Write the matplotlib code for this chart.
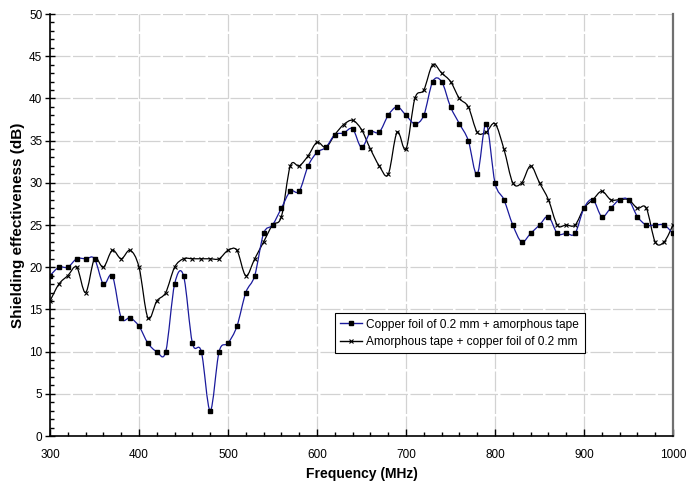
import numpy as np
import matplotlib
matplotlib.use("Agg")
import matplotlib.pyplot as plt
from matplotlib.path import Path
from matplotlib.patches import PathPatch
from matplotlib.lines import Line2D
from matplotlib.ticker import MultipleLocator

plt.rcParams['font.family'] = ['Liberation Sans', 'DejaVu Sans']

freq = [300, 310, 320, 330, 340, 350, 360, 370, 380, 390,
        400, 410, 420, 430, 440, 450, 460, 470, 480, 490,
        500, 510, 520, 530, 540, 550, 560, 570, 580, 590,
        600, 610, 620, 630, 640, 650, 660, 670, 680, 690,
        700, 710, 720, 730, 740, 750, 760, 770, 780, 790,
        800, 810, 820, 830, 840, 850, 860, 870, 880, 890,
        900, 910, 920, 930, 940, 950, 960, 970, 980, 990, 1000]

copper_amorph = [19, 20, 20, 21, 21, 21, 18, 19, 14, 14,
                 13, 11, 10, 10, 18, 19, 11, 10, 3, 10,
                 11, 13, 17, 19, 24, 25, 27, 29, 29, 32,
                 33.6, 34.2, 35.7, 35.9, 36.4, 34.2, 36, 36, 38, 39,
                 38, 37, 38, 42, 42, 39, 37, 35, 31, 37,
                 30, 28, 25, 23, 24, 25, 26, 24, 24, 24,
                 27, 28, 26, 27, 28, 28, 26, 25, 25, 25, 24]

amorph_copper = [16, 18, 19, 20, 17, 21, 20, 22, 21, 22,
                 20, 14, 16, 17, 20, 21, 21, 21, 21, 21,
                 22, 22, 19, 21, 23, 25, 26, 32, 32, 33.2,
                 34.8, 34.2, 35.7, 36.9, 37.4, 36.3, 34, 32, 31, 36,
                 34, 40, 41, 44, 43, 42, 40, 39, 36, 36,
                 37, 34, 30, 30, 32, 30, 28, 25, 25, 25,
                 27, 28, 29, 28, 28, 28, 27, 27, 23, 23, 25]

labels = ["Copper foil of 0.2 mm + amorphous tape",
          "Amorphous tape + copper foil of 0.2 mm"]


def smooth_path(x, y):
    # Excel style smoothed line: Catmull-Rom segments as cubic Beziers
    x = np.asarray(x, float)
    y = np.asarray(y, float)
    verts = [(x[0], y[0])]
    codes = [Path.MOVETO]
    n = len(x)
    for i in range(n - 1):
        p0 = (x[max(i - 1, 0)], y[max(i - 1, 0)])
        p1 = (x[i], y[i])
        p2 = (x[i + 1], y[i + 1])
        p3 = (x[min(i + 2, n - 1)], y[min(i + 2, n - 1)])
        c1 = (p1[0] + (p2[0] - p0[0]) / 6, p1[1] + (p2[1] - p0[1]) / 6)
        c2 = (p2[0] - (p3[0] - p1[0]) / 6, p2[1] - (p3[1] - p1[1]) / 6)
        verts += [c1, c2, p2]
        codes += [Path.CURVE4] * 3
    return Path(verts, codes)


fig = plt.figure(figsize=(6.88, 4.83), dpi=100)
ax = fig.add_axes([0.0727, 0.0973, 0.9055, 0.8737])

ax.add_patch(PathPatch(smooth_path(freq, amorph_copper), fill=False,
                       edgecolor='black', lw=0.9, zorder=3))
ax.add_patch(PathPatch(smooth_path(freq, copper_amorph), fill=False,
                       edgecolor='#1a1a9c', lw=0.9, zorder=3))
ax.plot(freq, amorph_copper, ls='none', marker='x', ms=3.4, mew=0.8,
        color='black', zorder=4)
ax.plot(freq, copper_amorph, ls='none', marker='s', ms=3.3,
        color='black', zorder=5)

ax.set_xlim(300, 1000)
ax.set_ylim(0, 50)
ax.xaxis.set_major_locator(MultipleLocator(100))
ax.xaxis.set_minor_locator(MultipleLocator(20))
ax.yaxis.set_major_locator(MultipleLocator(5))
ax.yaxis.set_minor_locator(MultipleLocator(1))
ax.tick_params(axis='x', which='major', direction='in', length=5, width=1,
               labelsize=8.5, pad=9)
ax.tick_params(axis='x', which='minor', direction='in', length=3, width=1)
ax.tick_params(axis='y', which='major', direction='inout', length=7, width=1,
               labelsize=8.5, pad=2)
ax.tick_params(axis='y', which='minor', direction='in', length=3, width=1)

ax.grid(True, which='major', color='#d2d2d2', lw=0.9, ls=(0, (16, 2)), zorder=0)
ax.spines['top'].set_visible(False)
ax.spines['right'].set_color('#707070')
ax.spines['right'].set_linewidth(1.6)
ax.spines['left'].set_linewidth(1.2)
ax.spines['bottom'].set_linewidth(1.2)

ax.set_xlabel("Frequency (MHz)", fontsize=10, fontweight='bold', labelpad=5)
ax.set_ylabel("Shielding effectiveness (dB)", fontsize=11, fontweight='bold',
              labelpad=3)

handles = [Line2D([], [], color='#1a1a9c', lw=1, marker='s', ms=3.3,
                  mfc='black', mec='black'),
           Line2D([], [], color='black', lw=1, marker='x', ms=3.4, mew=0.8)]
leg = ax.legend(handles, labels, loc='upper left', bbox_to_anchor=(0.457, 0.291),
                borderaxespad=0, fontsize=8.6, fancybox=False, framealpha=1,
                edgecolor='black', handlelength=1.8, handletextpad=0.4,
                borderpad=0.45, labelspacing=0.45)
leg.get_frame().set_linewidth(0.8)

fig.savefig("out.png", dpi=100)
